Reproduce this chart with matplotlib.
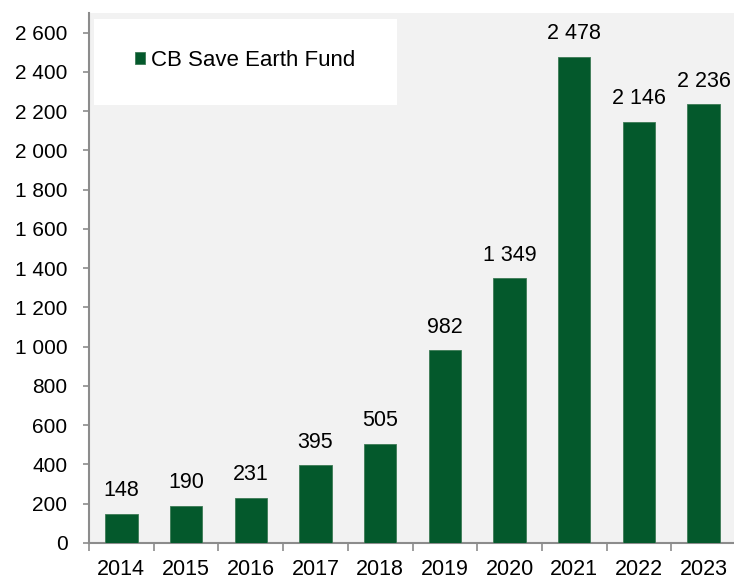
import matplotlib
matplotlib.use("Agg")
import matplotlib.pyplot as plt
from matplotlib.patches import Rectangle
from matplotlib.ticker import FuncFormatter, FixedLocator

plt.rcParams['font.family'] = ['Liberation Sans', 'DejaVu Sans']

years = ["2014", "2015", "2016", "2017", "2018", "2019", "2020", "2021", "2022", "2023"]
values = [148, 190, 231, 395, 505, 982, 1349, 2478, 2146, 2236]
series_name = "CB Save Earth Fund"

bar_color = "#04592c"
bg_color = "#f2f2f2"
spine_color = "#8c8c8c"

def fmt(v):
    return f"{int(round(v)):,}".replace(",", " ")

fig = plt.figure(figsize=(7.34, 5.79), dpi=100)
ax = fig.add_axes([89/734, 36/579, 647/734, 530/579])
ax.set_facecolor(bg_color)

x = list(range(len(years)))
ax.bar(x, values, width=0.5, color=bar_color, edgecolor="#3c7a55", linewidth=0.6,
       label=series_name, zorder=3)

for xi, v in zip(x, values):
    ax.annotate(fmt(v), (xi, v), xytext=(0, 9), textcoords="offset points",
                ha="center", va="bottom", fontsize=15.5, color="#000000")

ax.set_xlim(-0.5, len(years) - 0.5)
ax.set_ylim(0, 2700)
ax.yaxis.set_major_locator(FixedLocator(list(range(0, 2601, 200))))
ax.yaxis.set_major_formatter(FuncFormatter(lambda v, p: fmt(v)))

ax.set_xticks(x)
ax.set_xticklabels(years)
ax.xaxis.set_minor_locator(FixedLocator([i - 0.5 for i in range(len(years) + 1)]))
ax.tick_params(axis="x", which="major", length=0, pad=11.5, labelsize=15.5)
ax.tick_params(axis="x", which="minor", length=6, width=1.2, color=spine_color, direction="out")
ax.tick_params(axis="y", which="major", length=4.5, width=1.2, color=spine_color, pad=11, labelsize=15)

for s in ["top", "right"]:
    ax.spines[s].set_visible(False)
for s in ["left", "bottom"]:
    ax.spines[s].set_color(spine_color)
    ax.spines[s].set_linewidth(1.5)

# legend box
rect = Rectangle((0.0078, 0.826), 0.468, 0.163, transform=ax.transAxes,
                 facecolor="white", edgecolor="none", zorder=4)
ax.add_patch(rect)
leg = ax.legend(loc="center left", bbox_to_anchor=(0.071, 0.91), frameon=False,
                fontsize=16, handlelength=0.45, handleheight=0.45, handletextpad=0.27,
                borderaxespad=0, borderpad=0)
leg.set_zorder(5)

fig.savefig("out.png", dpi=100)
